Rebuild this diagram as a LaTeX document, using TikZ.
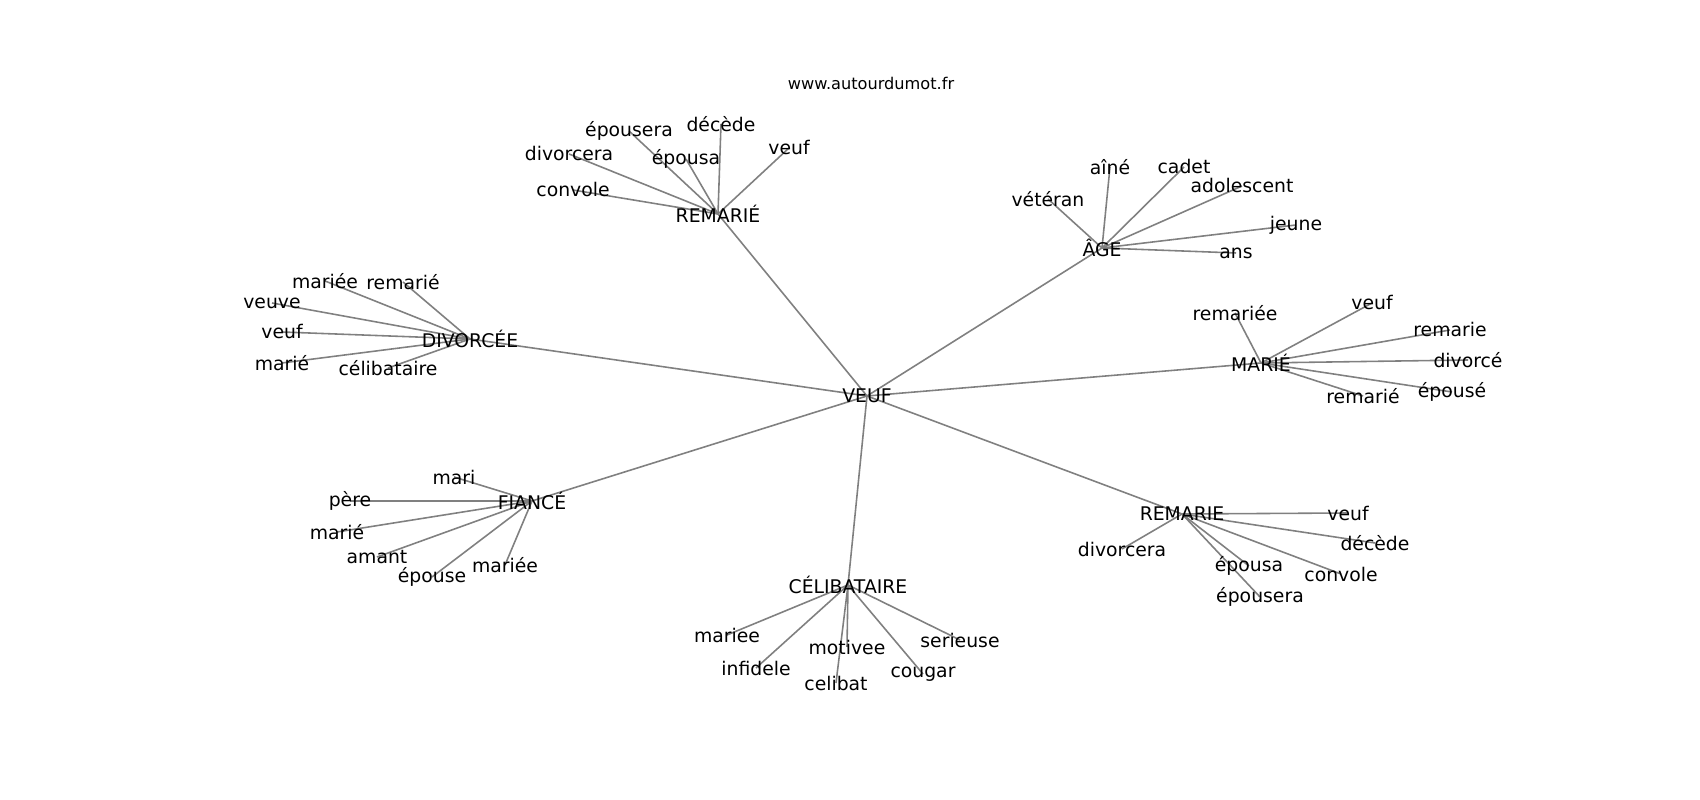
\documentclass[tikz,border=0pt]{standalone}
\usepackage{fontspec}
\setmainfont{DejaVu Sans}
\usetikzlibrary{backgrounds}

\begin{document}
\begin{tikzpicture}[
		mot/.style={inner sep=0pt, font=\fontsize{5.35}{6.4}\selectfont},
		lien/.style={gray, line width=0.45pt}]
		\useasboundingbox (0,0) rectangle (17,8);

		\node[inner sep=0pt, font=\fontsize{4.6}{5.5}\selectfont] (site) at (8.71,7.17) {www.autourdumot.fr};

		\node[mot] (veuf) at (8.67,4.04) {VEUF};

		\foreach \name/\x/\y/\mot in {re/7.18/5.86/REMARIÉ, ag/11.02/5.52/ÂGE, di/4.70/4.61/DIVORCÉE,
			ma/12.61/4.37/MARIÉ, fi/5.32/2.99/FIANCÉ, rp/11.82/2.86/REMARIE, ce/8.48/2.15/CÉLIBATAIRE}
		{
			\node[mot] (\name) at (\x,\y) {\mot};
		}

		% REMARIÉ
		\foreach \name/\x/\y/\mot in {re1/5.73/6.10/convole, re2/5.69/6.46/divorcera, re3/6.29/6.69/épousera,
			re4/6.86/6.41/épousa, re5/7.21/6.76/décède, re6/7.89/6.52/veuf}
		{
			\node[mot] (\name) at (\x,\y) {\mot};
		}

		% ÂGE
		\foreach \name/\x/\y/\mot in {ag1/10.48/6.01/vétéran, ag2/11.10/6.33/aîné, ag3/11.84/6.33/cadet,
			ag4/12.42/6.14/adolescent, ag5/12.96/5.75/jeune, ag6/12.36/5.47/ans}
		{
			\node[mot] (\name) at (\x,\y) {\mot};
		}

		% DIVORCÉE
		\foreach \name/\x/\y/\mot in {di1/3.25/5.19/mariée, di2/4.03/5.18/remarié, di3/2.72/4.97/veuve,
			di4/2.82/4.68/veuf, di5/2.82/4.37/marié, di6/3.88/4.32/célibataire}
		{
			\node[mot] (\name) at (\x,\y) {\mot};
		}

		% MARIÉ
		\foreach \name/\x/\y/\mot in {ma1/12.35/4.87/remariée, ma2/13.72/4.97/veuf, ma3/14.50/4.70/remarie,
			ma4/14.68/4.40/divorcé, ma5/14.52/4.08/épousé, ma6/13.63/4.04/remarié}
		{
			\node[mot] (\name) at (\x,\y) {\mot};
		}

		% FIANCÉ
		\foreach \name/\x/\y/\mot in {fi1/4.54/3.23/mari, fi2/3.50/2.99/père, fi3/3.37/2.68/marié,
			fi4/3.77/2.43/amant, fi5/4.32/2.23/épouse, fi6/5.05/2.35/mariée}
		{
			\node[mot] (\name) at (\x,\y) {\mot};
		}

		% REMARIE
		\foreach \name/\x/\y/\mot in {rp1/13.48/2.87/veuf, rp2/13.75/2.57/décède, rp3/11.22/2.51/divorcera,
			rp4/12.49/2.34/épousa, rp5/13.41/2.26/convole, rp6/12.60/2.03/épousera}
		{
			\node[mot] (\name) at (\x,\y) {\mot};
		}

		% CÉLIBATAIRE
		\foreach \name/\x/\y/\mot in {ce1/7.27/1.65/mariee, ce2/7.56/1.32/infidele, ce3/8.47/1.53/motivee,
			ce4/8.36/1.17/celibat, ce5/9.23/1.26/cougar, ce6/9.60/1.60/serieuse}
		{
			\node[mot] (\name) at (\x,\y) {\mot};
		}

		\begin{scope}[on background layer]
			\fill[white] (0,0) rectangle (17,8);
			\foreach \hub in {re,ag,di,ma,fi,rp,ce}
			{
				\draw[lien] (veuf.center) -- (\hub.center);
				\foreach \i in {1,...,6}
					\draw[lien] (\hub.center) -- (\hub\i.center);
			}
		\end{scope}

	\end{tikzpicture}
\end{document}
